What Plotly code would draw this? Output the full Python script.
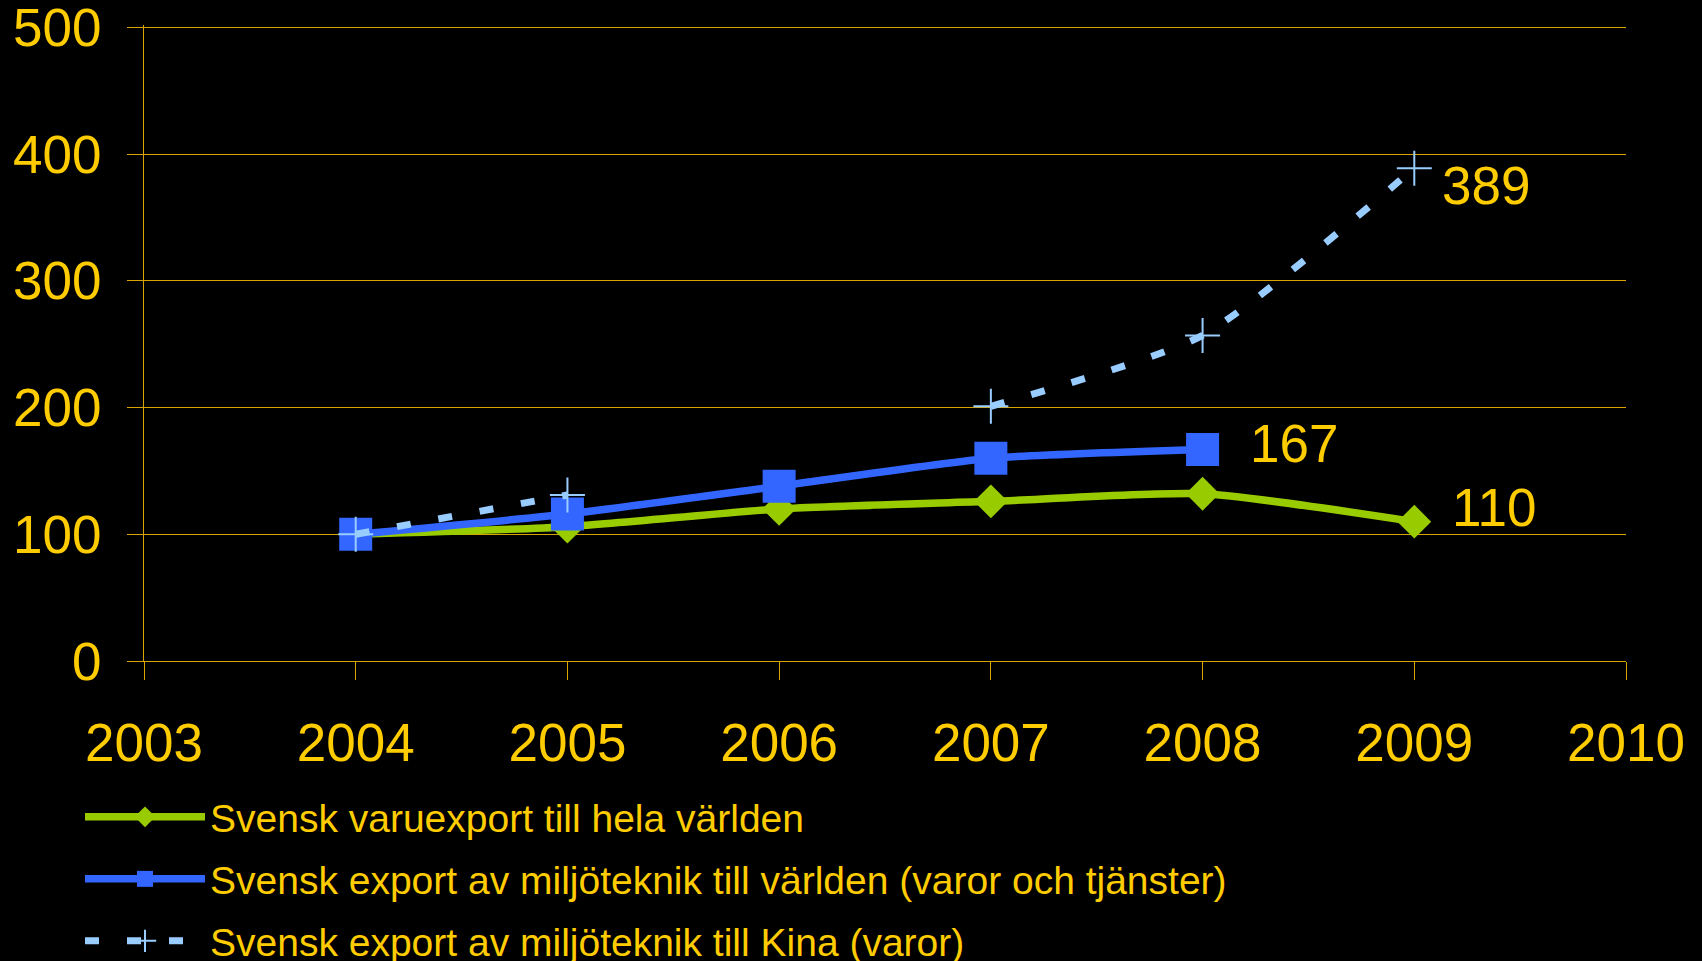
import plotly.graph_objects as go

years = [2004, 2005, 2006, 2007, 2008, 2009]
varuexport = [100, 106, 120, 126, 132, 110]
miljo_varlden = [100, 116, 138, 160, 167, None]
miljo_kina = [100, 131, None, 201, 257, 389]

names = [
    "Svensk varuexport till hela världen",
    "Svensk export av miljöteknik till världen (varor och tjänster)",
    "Svensk export av miljöteknik till Kina (varor)",
]
x_ticks = [2003, 2004, 2005, 2006, 2007, 2008, 2009, 2010]
y_ticks = [0, 100, 200, 300, 400, 500]

GOLD = "#FFCC00"
GRID = "#D9A400"
FONT = "Liberation Sans, Arial, sans-serif"

fig = go.Figure()
fig.add_trace(go.Scatter(
    x=years, y=varuexport, name=names[0], mode="lines+markers",
    line=dict(color="#99CC00", width=7.5, shape="spline", smoothing=0.6),
    marker=dict(symbol="diamond", size=26, color="#99CC00"),
    legend="legend",
))
fig.add_trace(go.Scatter(
    x=years, y=miljo_varlden, name=names[1], mode="lines+markers",
    line=dict(color="#3366FF", width=7.5, shape="spline", smoothing=0.6),
    marker=dict(symbol="square", size=33, color="#3366FF"),
    legend="legend2",
))
fig.add_trace(go.Scatter(
    x=years, y=miljo_kina, name=names[2], mode="lines+markers",
    line=dict(color="#99CCFF", width=7, dash="14px,28px", shape="spline", smoothing=0.6),
    marker=dict(symbol="cross-thin", size=25, line=dict(color="#99CCFF", width=2)),
    connectgaps=False,
    legend="legend3",
))

# value labels at the last point of each series
labels = [
    (years[5], varuexport[5], 36, 14),
    (years[4], miljo_varlden[4], 45, 6),
    (years[5], miljo_kina[5], 26, -17),
]
for xv, yv, xs, ys in labels:
    fig.add_annotation(
        x=xv, y=yv, text=str(yv), showarrow=False, xanchor="left", yanchor="middle",
        xshift=xs, yshift=ys, font=dict(family=FONT, size=53, color=GOLD),
    )

legend_common = dict(
    font=dict(family=FONT, size=39, color=GOLD),
    bgcolor="rgba(0,0,0,0)", xref="container", yref="container",
    xanchor="left", yanchor="middle", x=80 / 1702, itemwidth=120,
)
fig.update_layout(
    width=1702, height=961,
    paper_bgcolor="black", plot_bgcolor="black",
    margin=dict(l=144, r=76, t=25, b=300, autoexpand=False),
    showlegend=True,
    legend=dict(**legend_common, y=1 - 817 / 961),
    legend2=dict(**legend_common, y=1 - 879 / 961),
    legend3=dict(**legend_common, y=1 - 941 / 961),
    xaxis=dict(
        range=[2003, 2010], tickvals=x_ticks, ticktext=[str(v) for v in x_ticks],
        showgrid=False, zeroline=False, showline=True, linecolor=GRID, linewidth=1,
        ticks="outside", ticklen=18, tickcolor=GRID, tickwidth=1, tickangle=0,
        ticklabelstandoff=17, ticklabeloverflow="allow",
        tickfont=dict(family=FONT, size=53, color=GOLD),
    ),
    yaxis=dict(
        range=[0, 502], tickvals=y_ticks, showgrid=True, gridcolor=GRID, gridwidth=1,
        zeroline=False, showline=True, linecolor=GRID, linewidth=1,
        ticks="outside", ticklen=16, tickcolor=GRID, tickwidth=1,
        ticklabelstandoff=15, ticklabeloverflow="allow",
        tickfont=dict(family=FONT, size=53, color=GOLD),
    ),
)
fig.write_html(
    "out.html",
    config={"displayModeBar": False},
    post_script="document.body.style.margin='0px';document.body.style.backgroundColor='black';",
)
